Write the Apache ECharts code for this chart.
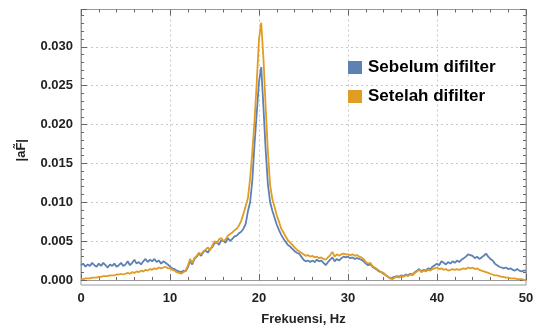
<!DOCTYPE html>
<html><head><meta charset="utf-8">
<script src="https://cdn.jsdelivr.net/npm/echarts@6/dist/echarts.min.js"></script>
<style>html,body{margin:0;padding:0;background:#fff}#c{width:540px;height:332px}</style>
</head><body><div id="c"></div>
<script>
const freqHz = [
0,0.25,0.5,0.75,1,1.25,1.5,1.75,2,2.25,2.5,2.75,3,3.25,3.5,3.75,4,4.25,4.5,4.75,
5,5.25,5.5,5.75,6,6.25,6.5,6.75,7,7.25,7.5,7.75,8,8.25,8.5,8.75,9,9.25,9.5,9.75,
10,10.25,10.5,10.75,11,11.25,11.5,11.75,12,12.25,12.5,12.75,13,13.25,13.5,13.75,14,14.25,14.5,14.75,
15,15.25,15.5,15.75,16,16.25,16.5,16.75,17,17.25,17.5,17.75,18,18.25,18.5,18.75,19,19.25,19.5,19.75,
20,20.25,20.5,20.75,21,21.25,21.5,21.75,22,22.25,22.5,22.75,23,23.25,23.5,23.75,24,24.25,24.5,24.75,
25,25.25,25.5,25.75,26,26.25,26.5,26.75,27,27.25,27.5,27.75,28,28.25,28.5,28.75,29,29.25,29.5,29.75,
30,30.25,30.5,30.75,31,31.25,31.5,31.75,32,32.25,32.5,32.75,33,33.25,33.5,33.75,34,34.25,34.5,34.75,
35,35.25,35.5,35.75,36,36.25,36.5,36.75,37,37.25,37.5,37.75,38,38.25,38.5,38.75,39,39.25,39.5,39.75,
40,40.25,40.5,40.75,41,41.25,41.5,41.75,42,42.25,42.5,42.75,43,43.25,43.5,43.75,44,44.25,44.5,44.75,
45,45.25,45.5,45.75,46,46.25,46.5,46.75,47,47.25,47.5,47.75,48,48.25,48.5,48.75,49,49.25,49.5,49.75,50
];
const sebelum = [
0.0019,0.0021,0.0017,0.0020,0.0018,0.0022,0.0019,0.0017,0.0021,0.0018,0.0022,0.0019,0.0016,0.0020,0.0018,0.0021,0.0017,0.0019,0.0022,0.0018,
0.0020,0.0024,0.0019,0.0022,0.0026,0.0021,0.0023,0.0020,0.0024,0.0027,0.0023,0.0026,0.0024,0.0027,0.0023,0.0025,0.0021,0.0024,0.0022,0.0020,
0.0017,0.0015,0.0014,0.0012,0.0011,0.0010,0.0012,0.0011,0.0016,0.0024,0.0020,0.0027,0.0030,0.0034,0.0031,0.0036,0.0038,0.0035,0.0040,0.0042,
0.0047,0.0049,0.0045,0.0051,0.0050,0.0048,0.0054,0.0050,0.0053,0.0056,0.0057,0.0060,0.0062,0.0066,0.0072,0.0088,0.0100,0.0128,0.0175,0.0215,
0.0255,0.0274,0.0222,0.0167,0.0123,0.0100,0.0089,0.0080,0.0071,0.0064,0.0058,0.0053,0.0049,0.0045,0.0043,0.0040,0.0037,0.0035,0.0034,0.0030,
0.0026,0.0024,0.0025,0.0023,0.0025,0.0023,0.0026,0.0024,0.0025,0.0022,0.0019,0.0023,0.0026,0.0029,0.0024,0.0027,0.0025,0.0028,0.0030,0.0029,
0.0030,0.0028,0.0029,0.0027,0.0028,0.0027,0.0026,0.0024,0.0021,0.0019,0.0020,0.0017,0.0015,0.0013,0.0011,0.0010,0.0008,0.0006,0.0004,0.0002,
0.0003,0.0004,0.0005,0.0004,0.0006,0.0005,0.0007,0.0006,0.0008,0.0007,0.0010,0.0012,0.0014,0.0011,0.0013,0.0012,0.0015,0.0014,0.0017,0.0019,
0.0021,0.0019,0.0024,0.0022,0.0020,0.0023,0.0021,0.0024,0.0022,0.0025,0.0023,0.0026,0.0028,0.0030,0.0033,0.0032,0.0031,0.0028,0.0030,0.0027,
0.0029,0.0031,0.0034,0.0030,0.0027,0.0025,0.0021,0.0019,0.0017,0.0016,0.0015,0.0016,0.0014,0.0015,0.0013,0.0012,0.0014,0.0012,0.0011,0.0012,0.0012
];
const setelah = [
0.0001,0.0001,0.0002,0.0002,0.0002,0.0003,0.0003,0.0003,0.0004,0.0004,0.0005,0.0005,0.0005,0.0006,0.0006,0.0006,0.0007,0.0007,0.0008,0.0007,
0.0008,0.0009,0.0008,0.0010,0.0009,0.0011,0.0010,0.0012,0.0011,0.0013,0.0012,0.0014,0.0013,0.0015,0.0014,0.0016,0.0015,0.0016,0.0017,0.0015,
0.0015,0.0013,0.0012,0.0010,0.0009,0.0008,0.0010,0.0012,0.0018,0.0027,0.0022,0.0028,0.0031,0.0035,0.0033,0.0037,0.0039,0.0042,0.0038,0.0044,
0.0050,0.0047,0.0052,0.0054,0.0050,0.0052,0.0057,0.0059,0.0061,0.0064,0.0066,0.0070,0.0076,0.0085,0.0095,0.0105,0.0130,0.0165,0.0205,0.0255,
0.0310,0.0331,0.0285,0.0222,0.0165,0.0122,0.0104,0.0094,0.0083,0.0075,0.0066,0.0061,0.0056,0.0051,0.0048,0.0045,0.0042,0.0039,0.0037,0.0035,
0.0033,0.0031,0.0032,0.0030,0.0031,0.0029,0.0030,0.0028,0.0029,0.0027,0.0026,0.0029,0.0032,0.0036,0.0030,0.0033,0.0031,0.0033,0.0034,0.0033,
0.0033,0.0032,0.0033,0.0031,0.0032,0.0030,0.0029,0.0027,0.0023,0.0021,0.0022,0.0018,0.0016,0.0014,0.0012,0.0010,0.0009,0.0006,0.0004,0.0002,
0.0001,0.0003,0.0004,0.0003,0.0005,0.0004,0.0006,0.0005,0.0007,0.0006,0.0009,0.0011,0.0013,0.0010,0.0012,0.0011,0.0013,0.0012,0.0014,0.0015,
0.0016,0.0014,0.0015,0.0013,0.0014,0.0012,0.0013,0.0014,0.0013,0.0014,0.0013,0.0014,0.0015,0.0014,0.0016,0.0015,0.0016,0.0014,0.0015,0.0013,
0.0012,0.0011,0.0010,0.0009,0.0008,0.0007,0.0006,0.0006,0.0005,0.0004,0.0004,0.0003,0.0003,0.0002,0.0002,0.0002,0.0001,0.0001,0.0001,0.0000,0.0000
];
const seriesNames = ['Sebelum difilter', 'Setelah difilter'];
const xTicks = [0, 10, 20, 30, 40, 50];
const yTicks = [0.000, 0.005, 0.010, 0.015, 0.020, 0.025, 0.030];

const FONT = '"Liberation Sans", Arial, sans-serif';
const frameColor = '#9a9a9a';
const tickColor = '#666';
const gridLine = {show: true, lineStyle: {color: '#c8c8c8', type: [2, 3], width: 1}};
const lbl = {color: '#222', fontFamily: FONT, fontWeight: 'bold', fontSize: 13};

const chart = echarts.init(document.getElementById('c'), null, {renderer: 'canvas'});
const xCommon = {
  type: 'value', min: xTicks[0], max: xTicks[xTicks.length - 1], interval: 10,
  axisLine: {show: true, lineStyle: {color: frameColor}},
  axisTick: {show: true, inside: true, length: 6, lineStyle: {color: tickColor}},
  minorTick: {show: true, splitNumber: 5, length: 3, lineStyle: {color: tickColor}},
};
const yTickCommon = {
  type: 'value', min: 0, max: 0.0348, interval: 0.005,
  axisLine: {show: true, lineStyle: {color: frameColor}},
  axisTick: {show: true, inside: true, length: 6, lineStyle: {color: tickColor}},
  minorTick: {show: true, splitNumber: 5, length: 3, lineStyle: {color: tickColor}},
};
chart.setOption({
  animation: false,
  backgroundColor: '#fff',
  legend: {
    orient: 'vertical', left: 343, top: 54, itemWidth: 14, itemHeight: 13, itemGap: 12,
    icon: 'rect',
    textStyle: {color: '#000', fontFamily: FONT, fontWeight: 'bold', fontSize: 17, padding: [0, 0, 0, 1]},
    data: seriesNames
  },
  grid: [
    {left: 81, right: 14, top: 9.5, bottom: 47, show: true, borderColor: frameColor, borderWidth: 1},
    {left: 81, right: 14, top: 9.5, bottom: 52}
  ],
  xAxis: [
    Object.assign({}, xCommon, {gridIndex: 0, position: 'bottom',
      splitLine: gridLine,
      name: 'Frekuensi, Hz', nameLocation: 'middle', nameGap: 28,
      nameTextStyle: {color: '#222', fontFamily: FONT, fontWeight: 'bold', fontSize: 13},
      axisLabel: Object.assign({margin: 7, formatter: v => xTicks.includes(v) ? String(v) : ''}, lbl)}),
    Object.assign({}, xCommon, {gridIndex: 0, position: 'top', splitLine: {show: false}, axisLabel: {show: false}}),
    {type: 'value', gridIndex: 1, min: 0, max: 50, show: false}
  ],
  yAxis: [
    {type: 'value', gridIndex: 0, min: -0.00065, max: 0.0348,
      axisLine: {show: false}, axisTick: {show: false}, axisLabel: {show: false}, splitLine: {show: false},
      name: '|aF\u0303|', nameLocation: 'middle', nameRotate: 90, nameGap: 53,
      nameTextStyle: {color: '#222', fontFamily: FONT, fontWeight: 'bold', fontSize: 13, padding: [0, 6, 0, 0]}},
    Object.assign({}, yTickCommon, {gridIndex: 1, position: 'left', splitLine: gridLine,
      axisLabel: Object.assign({margin: 8, showMaxLabel: false,
        formatter: v => yTicks.some(t => Math.abs(t - v) < 1e-9) ? v.toFixed(3) : ''}, lbl)}),
    Object.assign({}, yTickCommon, {gridIndex: 1, position: 'right', splitLine: {show: false}, axisLabel: {show: false}})
  ],
  series: [
    {name: seriesNames[0], type: 'line', xAxisIndex: 0, yAxisIndex: 0, showSymbol: false,
      lineStyle: {color: '#5E81B5', width: 1.8}, itemStyle: {color: '#5E81B5'},
      data: freqHz.map((f, i) => [f, sebelum[i]])},
    {name: seriesNames[1], type: 'line', xAxisIndex: 0, yAxisIndex: 0, showSymbol: false,
      lineStyle: {color: '#E19C24', width: 1.8}, itemStyle: {color: '#E19C24'},
      data: freqHz.map((f, i) => [f, setelah[i]])}
  ]
});
</script></body></html>
